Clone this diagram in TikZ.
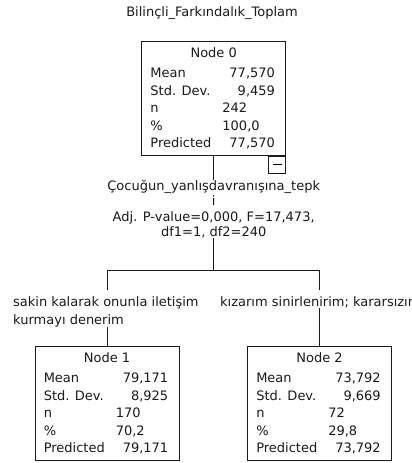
\documentclass[tikz,border=0pt]{standalone}
\usepackage{fontspec}
\setmainfont{DejaVu Sans}
\usepackage{xcolor}
\usepackage{tikz}
\usetikzlibrary{calc}
\definecolor{ink}{HTML}{1A1A1A}
\newcommand{\treefont}{\fontsize{13}{15.5}\selectfont}
\tikzset{
  statframe/.style={
    draw=ink,
    line width=0.9pt,
    fill=white,
    minimum width=144pt,
    minimum height=114pt,
    inner sep=0pt,
    anchor=north
  },
  boxhead/.style={anchor=base, inner sep=0pt, font=\treefont, text=ink},
  rowlabel/.style={anchor=base west, inner sep=0pt, font=\treefont, text=ink},
  rowvalue/.style={anchor=base east, inner sep=0pt, font=\treefont, text=ink},
  rowcount/.style={anchor=base west, inner sep=0pt, font=\treefont, text=ink},
  collapse/.style={draw=ink, line width=0.9pt, fill=white, minimum size=17pt, inner sep=0pt, anchor=north east},
  splitlabel/.style={align=center, inner sep=0pt, font=\treefont, text=ink},
  branchlabel/.style={align=left, anchor=north west, inner sep=0pt, font=\fontsize{13}{18.4}\selectfont, text=ink},
  caption/.style={inner sep=0pt, font=\treefont, text=ink},
  link/.style={draw=ink, line width=0.9pt}
}
% name, x, top, title, mean, sd, n, pct, predicted
\newcommand{\statbox}[9]{%
  \node[statframe] (#1) at (#2,#3) {};
  \node[boxhead] (#1-head) at ($(#1.north)+(0,16.5)$) {#4};
  \node[rowlabel] (#1-meanl) at ($(#1.north west)+(9,36.5)$) {Mean};
  \node[rowvalue] (#1-meanv) at ($(#1.north east)+(-11,36.5)$) {#5};
  \node[rowlabel] (#1-sdl) at ($(#1.north west)+(9,54)$) {Std. Dev.};
  \node[rowvalue] (#1-sdv) at ($(#1.north east)+(-11,54)$) {#6};
  \node[rowlabel] (#1-nl) at ($(#1.north west)+(9,71.5)$) {n};
  \node[rowcount] (#1-nv) at ($(#1.north west)+(81,71.5)$) {#7};
  \node[rowlabel] (#1-pl) at ($(#1.north west)+(9,89)$) {\%};
  \node[rowcount] (#1-pv) at ($(#1.north west)+(81,89)$) {#8};
  \node[rowlabel] (#1-predl) at ($(#1.north west)+(9,106.5)$) {Predicted};
  \node[rowvalue] (#1-predv) at ($(#1.north east)+(-11,106.5)$) {#9};
}
\begin{document}
\begin{tikzpicture}[x=1pt,y=-1pt]
\useasboundingbox (0,0) rectangle (412,463);
\fill[white] (0,0) rectangle (412,463);

\node[caption] (title) at (212,13) {Bilinçli\_Farkındalık\_Toplam};

\statbox{node0}{213.7}{41}{Node 0}{77,570}{9,459}{242}{100,0}{77,570}
\node[collapse] (fold) at (node0.south east) {\rule{9pt}{0.8pt}};

\node[splitlabel] (split) at (213.7,209)
  {Çocuğun\_yanlışdavranışına\_tepk\\i\\Adj. P-value=0,000, F=17,473,\\df1=1, df2=240};

\coordinate (fork) at (213.7,270);
\coordinate (drop1) at (107,290);
\coordinate (drop2) at (319.5,290);

\node[branchlabel] (lab1) at (13,296) {sakin kalarak onunla iletişim\\kurmayı denerim};
\node[branchlabel] (lab2) at (220,296) {kızarım sinirlenirim; kararsızım};

\statbox{node1}{107}{346}{Node 1}{79,171}{8,925}{170}{70,2}{79,171}
\statbox{node2}{319.5}{346}{Node 2}{73,792}{9,669}{72}{29,8}{73,792}

\draw[link] (node0) -- (split);
\draw[link] (split) -- (fork);
\draw[link] (fork) -| (drop1);
\draw[link] (fork) -| (drop2);
\draw[link] (drop1 |- lab1.south) -- (node1);
\draw[link] (drop2 |- lab2.south) -- (node2);

\end{tikzpicture}
\end{document}
